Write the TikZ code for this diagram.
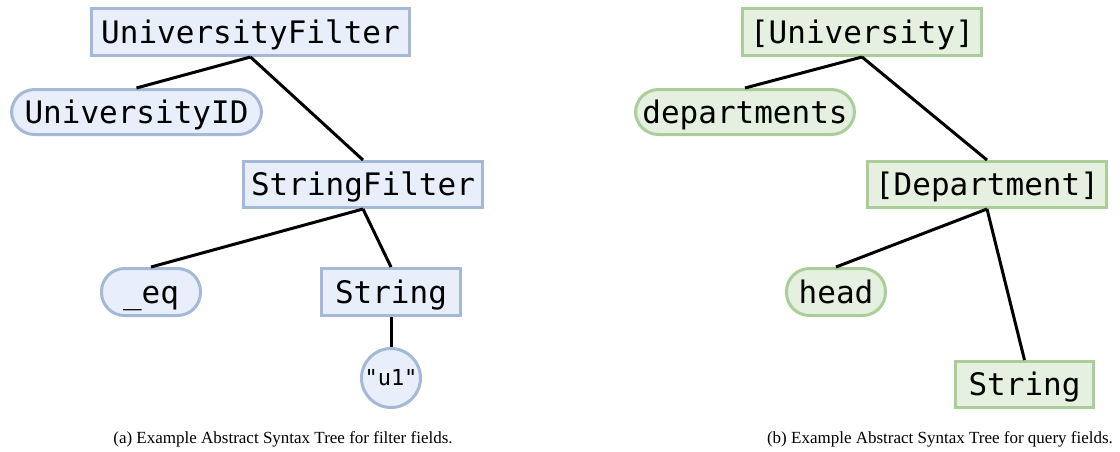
\documentclass[tikz,border=0pt]{standalone}
\usepackage{fontspec}
\setmainfont{Liberation Serif}
\setmonofont{DejaVu Sans Mono}
\definecolor{bluefill}{RGB}{232,239,251}
\definecolor{blueline}{RGB}{164,184,216}
\definecolor{greenfill}{RGB}{229,240,225}
\definecolor{greenline}{RGB}{170,206,152}
\begin{document}
\begin{tikzpicture}[x=1pt,y=-1pt,
  every node/.style={font=\ttfamily\fontsize{31}{36}\selectfont, text=black,
    line width=3pt, inner sep=0pt, minimum height=47pt},
  labeltext/.style={text height=24pt, text depth=2pt},
  bluenode/.style={draw=blueline, fill=bluefill},
  greennode/.style={draw=greenline, fill=greenfill},
  typebox/.style={rectangle, labeltext},
  fieldpill/.style={rectangle, rounded corners=23pt, labeltext},
  leafcirc/.style={circle, minimum size=59pt, font=\ttfamily\fontsize{22}{26}\selectfont},
  edge/.style={line width=3pt, black},
  caption/.style={font=\fontsize{17}{20}\selectfont, draw=none, fill=none, minimum height=0pt}
]
\path[use as bounding box] (0,0) rectangle (1120,451);

% filter-field tree
\node[bluenode, typebox, minimum width=318pt] (uf) at (250.5,32) {UniversityFilter};
\node[bluenode, fieldpill, minimum width=250pt, minimum height=45pt] (uid) at (136.5,112) {UniversityID};
\node[bluenode, typebox, minimum width=239pt, minimum height=46pt] (sf) at (363,184.5) {StringFilter};
\node[bluenode, fieldpill, minimum width=99pt] (eq) at (151,292) {\_eq};
\node[bluenode, typebox, minimum width=139pt] (str) at (391,292) {String};
\node[bluenode, leafcirc] (u1) at (391,378) {"u1"};

\draw[edge] (uf.south) -- (uid.north);
\draw[edge] (uf.south) -- (sf.north);
\draw[edge] (sf.south) -- (eq.north);
\draw[edge] (sf.south) -- (str.north);
\draw[edge] (str.south) -- (u1.north);

% query-field tree
\node[greennode, typebox, minimum width=239pt] (uq) at (862,32) {[University]};
\node[greennode, fieldpill, minimum width=219pt, minimum height=45pt] (dep) at (745,112) {departments};
\node[greennode, typebox, minimum width=239pt, minimum height=46pt] (dq) at (987,184.5) {[Department]};
\node[greennode, fieldpill, minimum width=99pt] (head) at (836,292) {head};
\node[greennode, typebox, minimum width=138pt, minimum height=46pt] (str2) at (1024.5,384.5) {String};

\draw[edge] (uq.south) -- (dep.north);
\draw[edge] (uq.south) -- (dq.north);
\draw[edge] (dq.south) -- (head.north);
\draw[edge] (dq.south) -- (str2.north);

% sub-captions
\node[caption] (capa) at (283,439) {(a) Example Abstract Syntax Tree for filter fields.};
\node[caption] (capb) at (940,439) {(b) Example Abstract Syntax Tree for query fields.};
\end{tikzpicture}
\end{document}
